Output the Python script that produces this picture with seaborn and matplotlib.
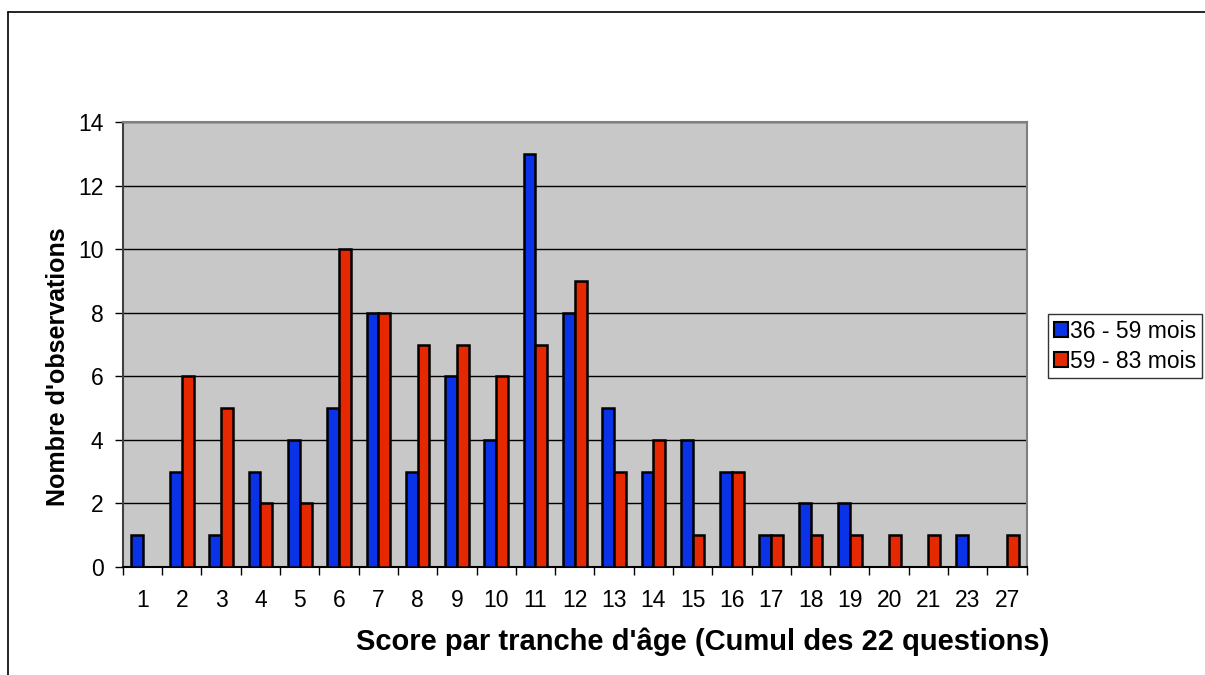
import matplotlib
matplotlib.use("Agg")
import matplotlib.pyplot as plt
from matplotlib.lines import Line2D
from matplotlib.ticker import FixedLocator
import seaborn as sns
import pandas as pd

# données
scores = ["1", "2", "3", "4", "5", "6", "7", "8", "9", "10", "11", "12",
          "13", "14", "15", "16", "17", "18", "19", "20", "21", "23", "27"]
obs_36_59 = [1, 3, 1, 3, 4, 5, 8, 3, 6, 4, 13, 8, 5, 3, 4, 3, 1, 2, 2, 0, 0, 1, 0]
obs_59_83 = [0, 6, 5, 2, 2, 10, 8, 7, 7, 6, 7, 9, 3, 4, 1, 3, 1, 1, 1, 1, 1, 0, 1]
groupes = ["36 - 59 mois", "59 - 83 mois"]
couleurs = ["#0A32E6", "#E62800"]

df = pd.DataFrame({
    "score": scores * 2,
    "n": obs_36_59 + obs_59_83,
    "groupe": [groupes[0]] * len(scores) + [groupes[1]] * len(scores),
})

sns.set_style("white", {"text.color": "black", "axes.labelcolor": "black",
                         "xtick.color": "black", "ytick.color": "black"})
plt.rcParams["font.family"] = ["Liberation Sans", "DejaVu Sans"]

fig = plt.figure(figsize=(12.05, 6.75), dpi=100)
ax = fig.add_axes([0.102, 0.160, 0.750, 0.659])
ax.set_facecolor("#C8C8C8")

sns.barplot(data=df, x="score", y="n", hue="groupe", order=scores,
            hue_order=groupes, palette=couleurs, width=0.6, gap=0,
            edgecolor="black", linewidth=1.8, saturation=1, ax=ax, zorder=3)

ax.set_ylim(0, 14)
ax.set_xlim(-0.5, len(scores) - 0.5)
ax.set_yticks(range(0, 15, 2))
ax.yaxis.grid(True, color="black", linewidth=1)
ax.set_axisbelow(True)

# graduations x aux limites des catégories
ax.xaxis.set_minor_locator(FixedLocator([i - 0.5 for i in range(len(scores) + 1)]))
ax.tick_params(axis="x", which="major", length=0, pad=16, labelsize=16.5)
ax.tick_params(axis="x", which="minor", length=6, width=1, color="black", bottom=True)
ax.tick_params(axis="y", length=6, width=1, color="black", left=True, labelsize=16.5, pad=8)

for s in ["top", "right"]:
    ax.spines[s].set_color("#808080")
    ax.spines[s].set_linewidth(1.5)
ax.spines["left"].set_color("#404040")
ax.spines["left"].set_linewidth(1.5)
ax.spines["bottom"].set_color("black")
ax.spines["bottom"].set_linewidth(1.5)

ax.set_xlabel("Score par tranche d'âge (Cumul des 22 questions)",
              fontsize=21, fontweight="bold")
ax.set_ylabel("Nombre d'observations", fontsize=18, fontweight="bold")
ax.xaxis.set_label_coords(0.641, -0.136)
ax.yaxis.set_label_coords(-0.059, 0.450)

ax.legend_.remove()
handles = [plt.Rectangle((0, 0), 1, 1, facecolor=c, edgecolor="black", linewidth=1.5)
           for c in couleurs]
leg = fig.legend(handles, groupes, loc="center left", bbox_to_anchor=(0.870, 0.487),
                 fontsize=16.5, frameon=True, fancybox=False, edgecolor="black",
                 handlelength=0.6, handleheight=0.6, handletextpad=0.1,
                 borderpad=0.25, labelspacing=0.3, borderaxespad=0)
leg.get_frame().set_linewidth(1)

# cadre du graphique (haut et gauche)
fig.add_artist(Line2D([0.0066, 1], [0.982, 0.982], color="black", linewidth=1.2))
fig.add_artist(Line2D([0.0066, 0.0066], [0, 0.982], color="black", linewidth=1.2))

fig.savefig("out.png", dpi=100)
